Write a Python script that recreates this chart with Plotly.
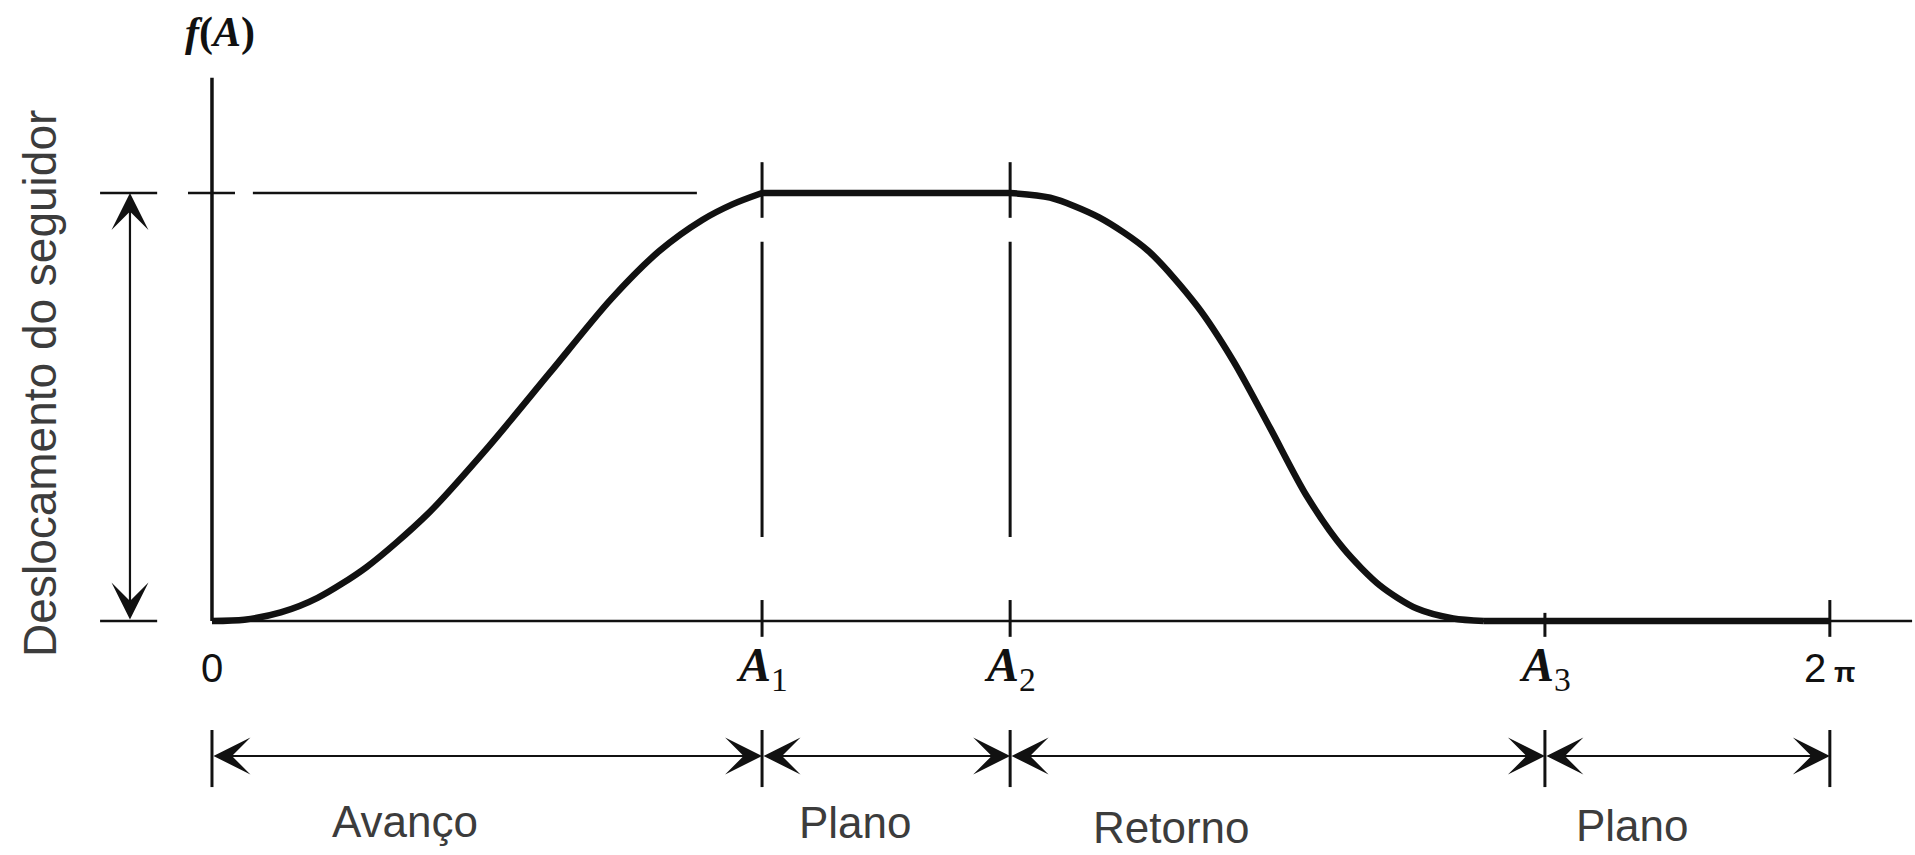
import plotly.graph_objects as go

# ---- data (angle in degrees of cam rotation, displacement normalised to lift h = 1)
tick_vals = [0, 122.4, 177.6, 296.6, 360]
tick_labels = ["0", "<b><i>A</i></b><sub>1</sub>", "<b><i>A</i></b><sub>2</sub>",
               "<b><i>A</i></b><sub>3</sub>", "2<b><span style='font-size:28px'> π</span></b>"]

rise_x = [0, 7.2, 15.3, 23.5, 34.4, 47.9, 61.5, 75.1, 88.7, 99.6, 109.1, 115.9, 122.4]
rise_y = [0, 0.003, 0.02, 0.054, 0.126, 0.249, 0.407, 0.579, 0.751, 0.865, 0.937, 0.974, 1.0]
dwell_x = [122.4, 177.6]
dwell_y = [1.0, 1.0]
return_x = [177.6, 186.5, 197.4, 208.3, 219.2, 227.3, 235.5, 243.6, 251.8, 259.9, 268.1, 276.2, 283.0]
return_y = [1.0, 0.989, 0.943, 0.865, 0.736, 0.607, 0.45, 0.292, 0.169, 0.083, 0.029, 0.006, 0.0]
rest_x = [283.0, 360]
rest_y = [0.0, 0.0]

phase_names = ["Avanço", "Plano", "Retorno", "Plano"]
phase_label_x = [42.9, 143.3, 213.6, 316.0]
phase_label_y = [-0.468, -0.47, -0.482, -0.478]

y_label = "Deslocamento do seguidor"
f_label = "<b><i>f</i>(<i>A</i>)</b>"

# ---- layout constants
X_RANGE = [-47.17, 378.95]
Y_RANGE = [-0.5467, 1.4509]
INK = "#111111"
GREY = "#3c3c3c"
AXIS_END_X = 378.3
AXIS_TOP_Y = 1.269
DIM_Y = -0.3154
DIM_TICK = (-0.2547, -0.388)
LEFT_DIM_X = -18.25
LEFT_TICK = (-24.9, -12.2)

fig = go.Figure()

for xs, ys, shape in ((rise_x, rise_y, "spline"), (dwell_x, dwell_y, "linear"),
                      (return_x, return_y, "spline"), (rest_x, rest_y, "linear")):
    fig.add_trace(go.Scatter(x=xs, y=ys, mode="lines",
                             line=dict(color=INK, width=6.5, shape=shape, smoothing=0.8),
                             hoverinfo="skip", showlegend=False))

shapes = []


def seg(x0, y0, x1, y1, w=3):
    shapes.append(dict(type="line", xref="x", yref="y", x0=x0, y0=y0, x1=x1, y1=y1,
                       line=dict(color=INK, width=w), layer="below"))


# axes
seg(0, 0, 0, AXIS_TOP_Y, 3.5)
seg(0, 0, AXIS_END_X, 0, 2.5)
# ticks on the angle axis
for v in tick_vals[1:]:
    top = 0.019 if v == tick_vals[3] else 0.049
    seg(v, top, v, -0.037, 3)
# broken vertical guides at A1 and A2
for v in tick_vals[1:3]:
    seg(v, 1.072, v, 0.942, 3)
    seg(v, 0.886, v, 0.196, 3)
# top horizontal guide at the full lift
seg(-5.34, 1, 5.12, 1, 2.5)
seg(9.1, 1, 107.9, 1, 2.5)
# left dimension ticks
for v in (0, 1):
    seg(LEFT_TICK[0], v, LEFT_TICK[1], v, 2.5)
# lower dimension ticks
for v in tick_vals:
    seg(v, DIM_TICK[0], v, DIM_TICK[1], 3)

annotations = []


def dim_arrow(x0, y0, x1, y1):
    annotations.append(dict(x=x1, y=y1, ax=x0, ay=y0, xref="x", yref="y", axref="x", ayref="y",
                            text="", showarrow=True, arrowside="end+start",
                            arrowhead=3, startarrowhead=3, arrowsize=2.8, startarrowsize=2.8,
                            arrowwidth=2.2, arrowcolor=INK, standoff=0, startstandoff=0))


dim_arrow(LEFT_DIM_X, 0, LEFT_DIM_X, 1)
for a, b in zip(tick_vals[:-1], tick_vals[1:]):
    dim_arrow(a, DIM_Y, b, DIM_Y)

# tick labels
for v, t in zip(tick_vals, tick_labels):
    fam = "Liberation Serif" if "A" in t else "Liberation Sans"
    size = 48 if "A" in t else 40
    annotations.append(dict(x=v, y=-0.11, xref="x", yref="y", text=t, showarrow=False,
                            font=dict(family=fam, size=size, color=INK),
                            xanchor="center", yanchor="middle"))

# phase labels
for name, px, py in zip(phase_names, phase_label_x, phase_label_y):
    annotations.append(dict(x=px, y=py, xref="x", yref="y", text=name, showarrow=False,
                            font=dict(family="Liberation Sans", size=44, color=GREY),
                            xanchor="center", yanchor="middle"))

# axis titles
annotations.append(dict(x=1.8, y=1.374, xref="x", yref="y", text=f_label, showarrow=False,
                        font=dict(family="Liberation Serif", size=42, color=INK),
                        xanchor="center", yanchor="middle"))
annotations.append(dict(x=-38.3, y=0.556, xref="x", yref="y", text=y_label, showarrow=False,
                        textangle=-90,
                        font=dict(family="Liberation Sans", size=46, color=GREY),
                        xanchor="center", yanchor="middle"))

fig.update_layout(
    width=1915, height=855, autosize=False,
    margin=dict(l=0, r=0, t=0, b=0, pad=0),
    paper_bgcolor="white", plot_bgcolor="white",
    xaxis=dict(range=X_RANGE, visible=False, fixedrange=True),
    yaxis=dict(range=Y_RANGE, visible=False, fixedrange=True),
    shapes=shapes, annotations=annotations, showlegend=False,
)

fig.write_html("out.html", config={"displayModeBar": False},
               post_script="document.body.style.margin='0';document.body.style.overflow='hidden';")
